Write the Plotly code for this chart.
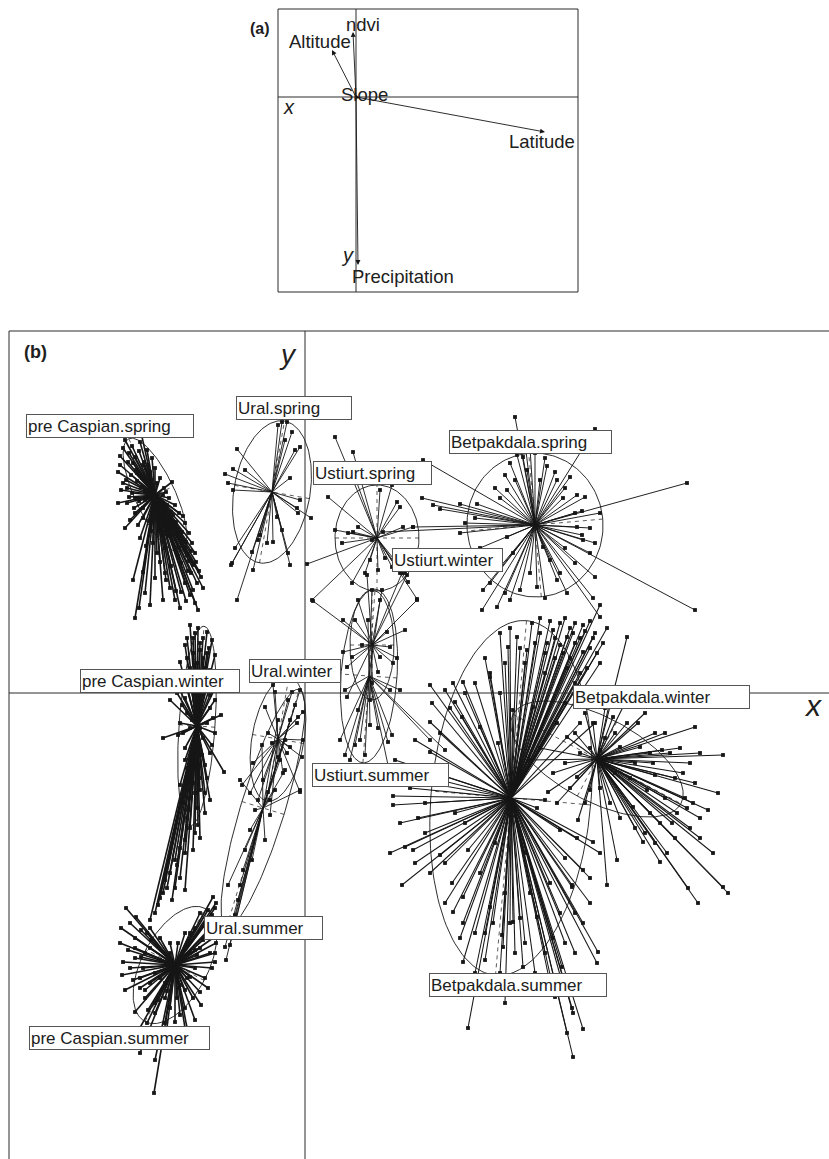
import numpy as np
import plotly.graph_objects as go

# ---------------- panel (a): environmental variables ----------------
VAR_NAMES = ["ndvi", "Altitude", "Slope", "Latitude", "Precipitation"]
VAR_X = [-0.015, -0.12, 0.02, 0.945, 0.01]
VAR_Y = [0.325, 0.235, -0.005, -0.175, -0.84]

# ---------------- panel (b): scores grouped by region.season ----------------
CLASS_NAMES = ["pre Caspian.spring", "pre Caspian.winter", "pre Caspian.summer",
               "Ural.spring", "Ural.winter", "Ural.summer",
               "Ustiurt.spring", "Ustiurt.winter", "Ustiurt.summer",
               "Betpakdala.spring", "Betpakdala.winter", "Betpakdala.summer"]

# class means (star centres)
CLASS_MEAN_X = [-1.50, -1.08, -1.30, -0.33, -0.27, -0.42, 0.72, 0.67, 0.64, 2.30, 2.92, 2.06]
CLASS_MEAN_Y = [1.98, -0.33, -2.72, 2.01, -0.46, -1.15, 1.55, 0.48, 0.17, 1.68, -0.66, -1.05]

# inertia ellipses (1.5 sd): semi-axes and orientation of the major axis (degrees)
ELL_MAJOR = [0.62, 1.00, 0.64, 0.72, 0.63, 1.24, 0.53, 0.55, 0.87, 0.72, 0.95, 1.78]
ELL_MINOR = [0.20, 0.18, 0.33, 0.38, 0.26, 0.22, 0.42, 0.22, 0.28, 0.68, 0.42, 0.80]
ELL_ANGLE = [-65, 86, 62, 80, 80, 73, 90, 90, 86, 95, -28, 85]

PC_SPRING = [(-1.80, 2.53), (-1.73, 2.47), (-1.65, 2.51), (-1.58, 2.43), (-1.85, 2.37), (-1.77, 2.31),
             (-1.87, 2.21), (-1.79, 2.13), (-1.69, 2.23), (-1.61, 2.31), (-1.53, 2.35), (-1.55, 2.21),
             (-1.84, 2.03), (-1.76, 1.96), (-1.87, 1.90), (-1.71, 1.85), (-1.64, 2.06), (-1.45, 2.15),
             (-1.39, 2.01), (-1.33, 2.11), (-1.34, 1.81), (-1.29, 1.71), (-1.23, 1.61), (-1.19, 1.51),
             (-1.14, 1.42), (-1.27, 1.37), (-1.09, 1.31), (-1.17, 1.22), (-1.04, 1.16), (-1.12, 1.03),
             (-1.19, 0.92), (-1.07, 0.83), (-1.29, 1.02), (-1.39, 1.13), (-1.45, 1.31), (-1.34, 1.27),
             (-1.22, 1.77), (-1.37, 1.57), (-1.54, 1.62), (-1.59, 1.47), (-1.70, 0.75), (-1.72, 1.13),
             (-1.62, 1.21), (-1.50, 1.15), (-1.24, 1.01), (-1.80, 1.65), (-1.67, 1.68), (-1.45, 1.88),
             (-1.60, 1.93), (-1.50, 1.78), (-1.75, 1.73), (-1.30, 0.93), (-1.42, 0.93), (-1.55, 0.88),
             (-1.55, 2.03), (-1.47, 1.93), (-1.58, 2.11), (-1.43, 1.83), (-1.65, 2.65),
             (-1.82, 2.45), (-1.76, 2.40), (-1.70, 2.36), (-1.66, 2.42), (-1.62, 2.28), (-1.74, 2.18),
             (-1.82, 2.10), (-1.68, 2.12), (-1.60, 2.02), (-1.52, 2.08), (-1.41, 2.05), (-1.36, 1.95),
             (-1.30, 1.88), (-1.26, 1.80), (-1.20, 1.70), (-1.16, 1.60), (-1.13, 1.50), (-1.10, 1.40),
             (-1.20, 1.45), (-1.25, 1.55), (-1.30, 1.45), (-1.24, 1.30), (-1.14, 1.20), (-1.08, 1.10),
             (-1.20, 1.10), (-1.15, 0.98), (-1.35, 1.05), (-1.40, 1.20), (-1.48, 1.40), (-1.52, 1.50),
             (-1.65, 1.55), (-1.70, 1.80), (-1.78, 1.90), (-1.62, 1.75), (-1.35, 1.70), (-1.42, 1.60),
             (-1.10, 0.90), (-1.25, 0.85), (-1.60, 1.00), (-1.66, 0.85),
             (-1.72, 2.30), (-1.68, 2.20), (-1.63, 2.15), (-1.57, 2.28), (-1.50, 2.25), (-1.48, 2.10),
             (-1.42, 1.98), (-1.38, 1.88), (-1.32, 1.78), (-1.28, 1.63), (-1.22, 1.52), (-1.18, 1.38),
             (-1.12, 1.28), (-1.32, 1.58), (-1.40, 1.45), (-1.46, 1.62), (-1.56, 1.72), (-1.62, 1.85),
             (-1.70, 1.95), (-1.78, 2.05), (-1.85, 2.28), (-1.73, 2.00), (-1.66, 1.92), (-1.52, 1.87),
             (-1.40, 1.78), (-1.30, 1.65), (-1.26, 1.45), (-1.16, 1.32), (-1.06, 1.22), (-1.02, 1.05)]

PC_WINTER = [(-1.15, 0.68), (-1.07, 0.65), (-0.98, 0.61), (-0.93, 0.53), (-1.20, 0.48), (-1.05, 0.43),
             (-0.90, 0.38), (-1.25, 0.31), (-1.15, 0.25), (-0.95, 0.23), (-1.30, 0.13), (-0.87, 0.11),
             (-1.35, -0.07), (-1.23, -0.12), (-0.90, -0.07), (-0.84, -0.22), (-1.42, -0.45), (-1.27, -0.42),
             (-0.93, -0.52), (-0.81, -0.79), (-1.20, -0.67), (-1.00, -0.72), (-1.25, -0.92), (-1.05, -0.97),
             (-0.95, -1.07), (-1.17, -1.17), (-1.07, -1.32), (-1.20, -1.47), (-1.12, -1.57), (-1.30, -1.67),
             (-1.40, -1.87), (-1.47, -2.12), (-1.33, -2.07), (-1.20, -1.97), (-1.55, -2.27), (-1.10, -0.12),
             (-1.13, -0.27), (-1.05, -0.22), (-1.00, 0.03), (-1.17, 0.03), (-1.10, -0.47), (-1.03, -0.62),
             (-1.10, 0.60), (-1.02, 0.55), (-1.12, 0.40), (-0.96, 0.45), (-1.18, 0.35), (-1.08, 0.30),
             (-1.00, 0.25), (-1.22, 0.20), (-0.92, 0.15), (-1.05, 0.10), (-1.28, 0.00), (-0.95, -0.02),
             (-1.18, -0.20), (-0.98, -0.30), (-1.25, -0.30), (-0.90, -0.40), (-1.20, -0.55), (-1.02, -0.45),
             (-1.15, -0.80), (-0.98, -0.85), (-1.10, -1.00), (-1.22, -1.10), (-1.00, -1.20), (-1.15, -1.35),
             (-1.25, -1.55), (-1.05, -1.45), (-1.35, -1.80), (-1.25, -1.85), (-1.42, -2.00), (-1.50, -2.20),
             (-1.12, 0.55), (-1.05, 0.50), (-0.98, 0.40), (-1.15, 0.15), (-1.08, 0.18), (-0.98, 0.10),
             (-1.20, -0.05), (-1.05, -0.05), (-0.95, -0.15), (-1.15, -0.35), (-1.05, -0.35), (-0.92, -0.25),
             (-1.22, -0.40), (-1.08, -0.55), (-0.95, -0.60), (-1.18, -0.75), (-1.05, -0.85), (-1.12, -0.90),
             (-1.00, -1.00), (-1.15, -1.05), (-1.08, -1.15), (-1.18, -1.25), (-1.10, -1.40), (-1.20, -1.60),
             (-1.28, -1.72), (-1.38, -1.95), (-1.45, -2.05), (-1.30, -1.95), (-1.02, 0.35), (-1.18, 0.55)]

PC_SUMMER = [(-1.79, -2.15), (-1.84, -2.35), (-1.82, -2.69), (-1.72, -2.87), (-1.70, -3.19), (-1.57, -3.17),
             (-1.40, -3.30), (-1.30, -3.29), (-1.10, -3.27), (-1.04, -3.12), (-1.05, -2.99), (-0.90, -2.69),
             (-0.89, -2.50), (-0.90, -2.30), (-0.89, -2.10), (-0.92, -2.04), (-1.65, -3.60), (-1.50, -3.67),
             (-1.51, -4.00), (-1.17, -3.40), (-1.64, -2.37), (-1.54, -2.47), (-1.69, -2.24), (-1.60, -2.97),
             (-1.47, -3.07), (-1.20, -2.97), (-1.15, -2.84), (-1.10, -2.57), (-1.00, -2.30), (-0.97, -2.17),
             (-1.77, -2.57), (-1.80, -2.97), (-1.64, -2.64), (-1.40, -2.90), (-1.27, -2.50), (-0.95, -2.37),
             (-1.02, -2.47), (-0.93, -2.22), (-1.45, -2.67), (-1.25, -2.92),
             (-1.75, -2.30), (-1.70, -2.45), (-1.75, -2.75), (-1.65, -2.85), (-1.60, -3.05), (-1.50, -3.20),
             (-1.35, -3.15), (-1.20, -3.15), (-1.12, -3.05), (-1.00, -2.85), (-0.95, -2.60), (-0.98, -2.40),
             (-1.05, -2.20), (-0.90, -2.15), (-1.55, -2.35), (-1.60, -2.60), (-1.50, -2.80), (-1.38, -2.98),
             (-1.68, -3.40), (-1.40, -3.50), (-1.58, -3.30), (-1.85, -2.50), (-1.83, -2.82), (-1.20, -3.35),
             (-0.97, -2.95), (-0.93, -2.75), (-1.08, -2.62), (-1.15, -2.40),
             (-1.70, -2.55), (-1.62, -2.75), (-1.55, -2.90), (-1.45, -2.85), (-1.40, -3.05), (-1.28, -3.05),
             (-1.18, -2.85), (-1.10, -2.75), (-1.05, -2.55), (-1.00, -2.45), (-0.95, -2.25), (-1.10, -2.35),
             (-1.20, -2.40), (-1.35, -2.50), (-1.45, -2.45), (-1.55, -2.55), (-1.65, -2.95), (-1.50, -3.10),
             (-1.25, -3.22), (-0.92, -2.45), (-0.90, -2.60), (-1.70, -2.65), (-1.58, -2.40), (-1.35, -2.60),
             (-1.15, -2.60)]

URAL_SPRING = [(-0.68, 2.44), (-0.80, 2.19), (-0.77, 2.10), (-0.72, 2.24), (-0.72, 2.03), (-0.60, 2.23),
               (-0.23, 2.71), (-0.18, 2.71), (-0.27, 2.68), (-0.05, 2.46), (-0.10, 2.43), (-0.15, 2.15),
               (-0.05, 1.93), (-0.08, 1.85), (-0.07, 1.80), (-0.23, 1.63), (-0.32, 1.51), (-0.38, 1.50),
               (-0.28, 1.76), (-0.17, 1.40), (-0.15, 1.28), (-0.47, 1.53), (-0.53, 1.41), (-0.70, 1.45),
               (-0.73, 1.30), (-0.52, 1.23), (-0.68, 0.93), (-0.74, 1.28), (0.06, 1.75), (-0.20, 2.53),
               (-0.13, 2.61), (-0.45, 1.58)]

URAL_WINTER = [(-0.32, 0.08), (-0.30, 0.01), (-0.40, -0.14), (-0.13, 0.01), (-0.02, -0.19), (-0.07, -0.24),
               (-0.17, -0.07), (-0.37, -0.40), (-0.08, -0.30), (-0.02, -0.47), (-0.03, -0.64), (-0.15, -0.54),
               (-0.63, -0.92), (-0.52, -0.70), (-0.55, -1.00), (-0.37, -0.99), (-0.27, -0.64), (-0.18, -0.60),
               (-0.05, -0.99), (-0.22, -0.80), (-0.42, -0.87), (-0.33, -0.50), (-0.47, -1.07), (-0.35, -1.22)]

URAL_SUMMER = [(-0.05, 0.03), (-0.10, -0.12), (-0.15, -0.27), (-0.20, -0.47), (-0.25, -0.67), (-0.05, -0.97),
               (-0.65, -0.87), (-0.30, -0.97), (-0.35, -1.07), (-0.55, -1.37), (-0.60, -1.57), (-0.62, -1.77),
               (-0.65, -1.92), (-0.67, -2.07), (-0.70, -2.22), (-0.73, -2.37), (-0.75, -2.52), (-0.79, -2.67),
               (-0.77, -1.92), (-0.53, -1.67), (-0.40, -1.47), (-0.50, -1.17), (-0.20, -0.77), (-0.27, -0.27),
               (-0.43, -0.52), (-0.80, -2.54)]

USTIURT_SPRING = [(0.30, 2.56), (0.48, 2.41), (0.52, 2.10), (0.23, 1.96), (0.30, 1.63), (0.43, 1.60),
                  (0.48, 1.61), (0.53, 1.66), (0.75, 2.03), (0.87, 2.08), (0.92, 1.91), (0.95, 1.86),
                  (0.98, 1.66), (1.08, 1.66), (0.67, 1.53), (0.65, 1.33), (0.80, 1.35), (0.87, 1.26),
                  (0.95, 1.20), (1.00, 1.20), (1.12, 0.94), (1.03, 1.11), (0.07, 0.93), (0.02, 1.29),
                  (0.47, 1.10), (0.37, 1.50), (0.60, 1.20), (0.73, 1.23)]

USTIURT_WINTER = [(0.38, 0.73), (0.50, 0.73), (0.53, 0.93), (0.62, 1.18), (0.77, 1.03), (0.97, 1.20),
                  (1.02, 1.18), (1.12, 0.93), (1.00, 0.63), (0.82, 0.61), (0.92, 0.35), (0.88, 0.30),
                  (0.85, 0.46), (0.42, 0.26), (0.38, 0.41), (0.47, 0.36), (0.42, -0.04), (0.57, 0.48),
                  (0.75, 0.36), (0.67, 0.10), (0.08, 0.92), (0.73, 0.21), (0.65, -0.07)]

USTIURT_SUMMER = [(0.50, -0.52), (0.40, -0.62), (0.45, -0.67), (0.55, -0.47), (0.65, -0.32), (0.73, -0.35),
                  (0.83, -0.49), (0.87, -0.42), (0.60, -0.62), (0.35, -0.47), (0.75, 0.93), (0.67, 1.03),
                  (0.63, 0.73), (0.85, 0.03), (0.95, 0.03), (0.40, 0.03), (0.53, -0.17), (1.40, -0.57),
                  (1.25, -0.47), (0.83, -0.72)]

BETPAK_SPRING = [(2.10, 2.76), (2.90, 2.64), (3.82, 2.10), (3.90, 0.83), (1.17, 1.95), (1.28, 1.88),
                 (1.35, 1.84), (1.55, 1.89), (1.72, 1.89), (1.08, 1.66), (1.55, 1.60), (2.00, 2.18),
                 (1.95, 1.95), (2.10, 2.13), (2.42, 2.27), (2.50, 2.21), (2.52, 2.13), (2.65, 2.16),
                 (2.58, 1.95), (2.72, 1.98), (2.80, 1.96), (2.77, 1.82), (2.95, 1.80), (2.72, 1.66),
                 (2.77, 1.58), (2.78, 1.53), (2.85, 1.40), (2.90, 1.16), (2.88, 0.95), (2.95, 0.76),
                 (1.78, 1.03), (1.77, 0.83), (1.92, 0.86), (2.05, 0.93), (2.15, 1.03), (2.32, 1.06),
                 (2.52, 1.13), (2.62, 1.00), (2.02, 2.03), (2.22, 2.23), (2.35, 2.13), (1.95, 1.26),
                 (2.08, 1.40), (2.12, 2.38), (2.18, 2.36), (2.02, 1.56), (2.38, 1.46), (2.45, 1.33),
                 (0.78, 1.61), (1.18, 2.33),
                 (2.20, 2.50), (2.25, 2.45), (2.30, 2.40), (2.40, 2.35), (2.05, 2.30), (1.90, 2.05),
                 (1.70, 1.75), (1.60, 1.70), (2.60, 2.05), (2.70, 1.80), (2.85, 1.65), (2.60, 1.45),
                 (2.55, 1.20), (2.25, 1.20), (2.00, 1.00), (1.85, 1.10), (2.40, 0.95), (2.70, 1.30),
                 (1.75, 1.45), (2.90, 1.50)]

BETPAK_WINTER = [(3.22, 0.56), (3.08, 0.06), (3.90, -0.34), (4.18, -0.62), (4.13, -1.00), (4.03, -1.17),
                 (3.95, -1.25), (3.82, -1.15), (3.67, -1.30), (4.08, -1.60), (3.95, -1.45), (3.57, -0.57),
                 (3.48, -0.70), (3.33, -0.30), (3.22, -0.30), (3.08, -0.24), (2.88, -0.30), (2.62, -0.44),
                 (2.48, -0.80), (2.52, -1.10), (2.73, -1.27), (3.02, -1.92), (3.12, -1.67), (3.38, -1.49),
                 (3.55, -1.69), (3.83, -1.95), (4.18, -1.94), (2.85, -0.97), (2.72, -0.84), (3.28, -1.14),
                 (3.42, -0.97), (3.50, -0.82), (3.35, -0.54), (3.15, -0.54), (2.95, -0.57), (3.93, -2.10),
                 (4.23, -2.00), (2.35, -0.55), (2.25, -0.67), (2.43, -0.99),
                 (3.60, -0.40), (3.75, -0.55), (3.85, -0.70), (3.70, -0.85), (3.90, -0.90), (3.80, -1.05),
                 (3.60, -1.05), (3.45, -1.20), (3.70, -1.45), (3.50, -1.50), (3.30, -1.35), (3.15, -1.25),
                 (3.05, -1.10), (2.80, -1.10), (2.65, -0.95), (2.60, -0.70), (2.70, -0.40), (2.80, -0.20),
                 (3.00, -0.15), (3.20, -0.10), (3.40, -0.20), (3.50, -0.40), (3.25, -0.85), (3.10, -0.80),
                 (2.95, -0.95),
                 (3.65, -0.60), (3.78, -0.80), (3.88, -1.10), (3.72, -1.20), (3.55, -1.30), (3.40, -1.40),
                 (3.62, -1.60), (3.85, -1.35), (3.95, -0.60), (3.45, -0.60), (3.30, -0.70), (3.10, -0.40),
                 (2.85, -0.55), (2.75, -0.60), (3.00, -0.45)]

BETPAK_SUMMER = [(1.25, 0.08), (1.40, 0.03), (1.48, 0.10), (1.58, 0.11), (1.50, -0.09), (1.57, -0.24),
                 (1.25, -0.29), (1.27, -0.10), (1.75, -0.34), (1.85, 0.16), (1.93, -0.50), (1.25, -0.59),
                 (0.88, -1.03), (0.88, -1.12), (1.13, -1.25), (0.85, -1.60), (1.00, -1.54), (1.08, -1.57),
                 (1.35, -1.62), (1.47, -1.90), (0.97, -1.92), (1.63, -1.57), (1.75, -1.80), (2.32, -1.15),
                 (2.40, -1.07), (2.55, -1.37), (2.72, -1.45), (2.88, -1.49), (2.67, -1.92), (2.78, -1.77),
                 (2.78, 0.68), (2.78, 0.41), (2.68, 0.60), (2.62, 0.56), (2.55, 0.48), (2.48, 0.63),
                 (2.42, 0.50), (2.27, 0.70), (2.12, 0.56), (2.03, 0.46), (1.85, 0.20), (2.22, 0.43),
                 (2.75, 0.20), (2.75, -0.30), (2.52, -0.30), (2.28, -0.14), (2.08, -0.17), (1.48, -2.19),
                 (1.58, -2.30), (1.80, -2.67), (1.58, -2.69), (1.63, -3.35), (1.98, -2.54), (1.97, -2.42),
                 (2.05, -2.30), (2.08, -2.29), (2.18, -2.74), (2.15, -2.25), (2.32, -2.24), (2.48, -2.45),
                 (2.57, -2.74), (2.67, -3.15), (2.68, -3.20), (2.78, -3.36), (2.62, -3.40), (2.68, -3.64),
                 (2.50, -3.04), (2.92, -2.70), (2.93, -2.59), (2.78, -2.30), (2.85, -2.10), (2.67, -1.94),
                 (1.58, -2.04), (1.85, -2.14), (3.02, 0.65), (2.95, 0.88), (0.90, -0.67), (1.10, -0.47),
                 (1.15, -0.82),
                 (2.70, 0.70), (2.85, 0.72), (2.90, 0.60), (2.60, 0.75), (2.50, 0.55), (2.35, 0.60),
                 (2.40, 0.40), (2.65, 0.35), (2.85, 0.45), (2.95, 0.30), (2.20, 0.30), (2.00, 0.30),
                 (1.95, 0.60), (1.60, 0.00), (1.45, -0.15), (1.35, -0.40), (1.30, -0.80), (1.05, -0.95),
                 (0.95, -1.30), (1.20, -1.40), (1.25, -1.80), (1.40, -2.10), (1.55, -2.45), (1.70, -2.40),
                 (1.88, -2.30), (1.95, -2.80), (2.00, -3.10), (2.20, -2.50), (2.40, -2.60), (2.45, -2.90),
                 (2.60, -2.50), (2.70, -2.20), (2.85, -1.85), (2.95, -1.60), (2.60, -1.65), (2.20, -1.60),
                 (1.90, -1.50), (1.60, -1.30), (2.90, -0.30), (2.60, -0.10), (1.70, 0.10), (1.95, 0.00),
                 (2.75, 0.55), (2.80, 0.62), (2.65, 0.65), (2.58, 0.40), (2.45, 0.72), (2.30, 0.50),
                 (2.50, 0.35), (2.70, 0.50), (2.88, 0.55), (2.92, 0.40), (2.62, 0.25), (2.40, 0.20),
                 (2.15, 0.45), (2.35, 0.75), (2.55, 0.70), (2.70, 0.10), (2.82, 0.25), (2.05, 0.65),
                 (1.80, 0.35), (2.98, 0.50),
                 (2.00, -2.00), (2.10, -2.60), (2.30, -2.80), (2.55, -2.20), (2.60, -3.00), (1.80, -2.40),
                 (1.70, -2.80), (2.25, -2.00), (2.45, -1.90), (2.70, -2.60), (1.40, -1.70), (1.20, -1.10),
                 (1.10, -1.70), (0.95, -0.85), (1.50, -1.20)]

CLASS_POINTS = [PC_SPRING, PC_WINTER, PC_SUMMER, URAL_SPRING, URAL_WINTER, URAL_SUMMER,
                USTIURT_SPRING, USTIURT_WINTER, USTIURT_SUMMER, BETPAK_SPRING, BETPAK_WINTER, BETPAK_SUMMER]

# ---------------- styling / layout ----------------
INK = "#161616"
FONT = "Liberation Sans, Arial, sans-serif"
W, H = 829, 1159
STAR_WIDTH = [1.6, 1.6, 1.6, 0.9, 0.9, 0.9, 0.9, 0.9, 0.9, 0.95, 1.05, 1.05]

# class label boxes: centre (score units) and box width (px)
LABEL_POS = [(-1.95, 2.67), (-1.45, 0.12), (-1.86, -3.45), (-0.11, 2.85), (-0.10, 0.22), (-0.42, -2.35),
             (0.67, 2.20), (1.42, 1.33), (0.75, -0.82), (2.25, 2.51), (3.56, -0.04), (2.13, -2.92)]
LABEL_BOX_W = [166, 158, 179, 114, 90, 117, 117, 109, 135, 161, 175, 176]

# variable label positions in panel (a)
VAR_LABEL_POS = [(0.035, 0.36), (-0.18, 0.275), (0.04, 0.01), (0.93, -0.225), (0.235, -0.90)]

fig = go.Figure()

# stars and points for each class
for k, pts in enumerate(CLASS_POINTS):
    cx, cy = CLASS_MEAN_X[k], CLASS_MEAN_Y[k]
    sx, sy = [], []
    for (px, py) in pts:
        sx += [px, cx, None]
        sy += [py, cy, None]
    fig.add_trace(go.Scatter(x=sx, y=sy, mode="lines", line=dict(color=INK, width=STAR_WIDTH[k]),
                             hoverinfo="skip", showlegend=False))
    fig.add_trace(go.Scatter(x=[p[0] for p in pts], y=[p[1] for p in pts], mode="markers",
                             marker=dict(symbol="square", size=3.8, color=INK, line=dict(width=0)),
                             hoverinfo="skip", showlegend=False))

# ellipses with dashed principal axes
for k in range(len(CLASS_NAMES)):
    cx, cy = CLASS_MEAN_X[k], CLASS_MEAN_Y[k]
    a, b = ELL_MAJOR[k], ELL_MINOR[k]
    th = np.deg2rad(ELL_ANGLE[k])
    ca, sa = np.cos(th), np.sin(th)
    t = np.linspace(0, 2 * np.pi, 160)
    ex = cx + a * np.cos(t) * ca - b * np.sin(t) * sa
    ey = cy + a * np.cos(t) * sa + b * np.sin(t) * ca
    fig.add_trace(go.Scatter(x=ex, y=ey, mode="lines", line=dict(color=INK, width=0.9),
                             hoverinfo="skip", showlegend=False))
    ax_x = [cx - a * ca, cx + a * ca, None, cx + b * sa, cx - b * sa]
    ax_y = [cy - a * sa, cy + a * sa, None, cy - b * ca, cy + b * ca]
    fig.add_trace(go.Scatter(x=ax_x, y=ax_y, mode="lines",
                             line=dict(color=INK, width=0.7, dash="4px,4px"),
                             hoverinfo="skip", showlegend=False))

# invisible anchor for panel (a) axes
fig.add_trace(go.Scatter(x=[0], y=[0], xaxis="x2", yaxis="y2", mode="markers",
                         marker=dict(size=1, opacity=0), hoverinfo="skip", showlegend=False))

annotations = []
for k, name in enumerate(CLASS_NAMES):
    lx, ly = LABEL_POS[k]
    annotations.append(dict(x=lx, y=ly, xref="x", yref="y", text=name, showarrow=False,
                            font=dict(family=FONT, size=17, color="#202020"),
                            bgcolor="white", bordercolor="#555", borderwidth=1, borderpad=1,
                            width=LABEL_BOX_W[k] - 2, height=20, align="left", valign="middle"))

# panel (a): arrows and variable names
for k, name in enumerate(VAR_NAMES):
    annotations.append(dict(x=VAR_X[k], y=VAR_Y[k], ax=0, ay=0, xref="x2", yref="y2",
                            axref="x2", ayref="y2", text="", showarrow=True, arrowhead=2,
                            arrowsize=1.1, arrowwidth=0.9, arrowcolor=INK, standoff=0, startstandoff=0))
    lx, ly = VAR_LABEL_POS[k]
    annotations.append(dict(x=lx, y=ly, xref="x2", yref="y2", text=name, showarrow=False,
                            font=dict(family=FONT, size=18.5, color="#202020")))

annotations += [
    dict(x=248 / W, y=1 - 18 / H, xref="paper", yref="paper", text="<b>(a)</b>", showarrow=False,
         font=dict(family=FONT, size=16, color="#202020")),
    dict(x=-0.335, y=-0.05, xref="x2", yref="y2", text="<i>x</i>", showarrow=False,
         font=dict(family=FONT, size=20, color="#202020")),
    dict(x=-0.045, y=-0.79, xref="x2", yref="y2", text="<i>y</i>", showarrow=False,
         font=dict(family=FONT, size=20, color="#202020")),
    dict(x=-2.83, y=3.41, xref="x", yref="y", text="<b>(b)</b>", showarrow=False,
         xanchor="left", font=dict(family=FONT, size=18, color="#202020")),
    dict(x=-0.17, y=3.38, xref="x", yref="y", text="<i>y</i>", showarrow=False,
         font=dict(family=FONT, size=28, color="#202020")),
    dict(x=5.08, y=-0.12, xref="x", yref="y", text="<i>x</i>", showarrow=False,
         font=dict(family=FONT, size=30, color="#202020")),
]

line_style = dict(color="#2a2a2a", width=1)
shapes = [
    # panel (a) frame and axes
    dict(type="rect", xref="x2 domain", yref="y2 domain", x0=0, x1=1, y0=0, y1=1, line=line_style),
    dict(type="line", xref="x2", yref="y2 domain", x0=0, x1=0, y0=0, y1=1, line=line_style),
    dict(type="line", xref="x2 domain", yref="y2", x0=0, x1=1, y0=0, y1=0, line=line_style),
    # panel (b) frame (left and top visible) and axes
    dict(type="line", xref="x domain", yref="y domain", x0=0, x1=0, y0=0, y1=1, line=line_style),
    dict(type="line", xref="x domain", yref="y domain", x0=0, x1=1, y0=1, y1=1, line=line_style),
    dict(type="line", xref="x", yref="y domain", x0=0, x1=0, y0=0, y1=1, line=line_style),
    dict(type="line", xref="x domain", yref="y", x0=0, x1=1, y0=0, y1=0, line=line_style),
]

hidden = dict(visible=False, showgrid=False, zeroline=False, fixedrange=True)
fig.update_layout(
    width=W, height=H,
    margin=dict(l=0, r=0, t=0, b=0),
    paper_bgcolor="white", plot_bgcolor="white",
    xaxis=dict(domain=[9 / W, 1], range=[-2.96, 5.24], **hidden),
    yaxis=dict(domain=[0, 828 / H], range=[-4.66, 3.62], **hidden),
    xaxis2=dict(domain=[278 / W, 578 / W], range=[-0.39, 1.11], anchor="y2", **hidden),
    yaxis2=dict(domain=[(H - 292) / H, (H - 9) / H], range=[-0.975, 0.44], anchor="x2", **hidden),
    annotations=annotations,
    shapes=shapes,
    showlegend=False,
    hovermode=False,
)

fig.write_html("out.html", config={"displayModeBar": False, "staticPlot": True})
